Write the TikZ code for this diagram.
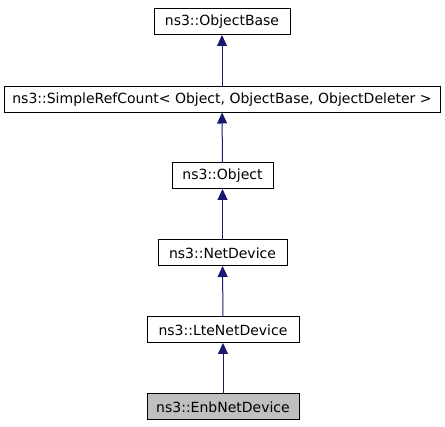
\documentclass[tikz,border=0pt]{standalone}
\usepackage{fontspec}
\setmainfont{DejaVu Sans}
\usetikzlibrary{arrows.meta}
\definecolor{edgeblue}{HTML}{191970}
\definecolor{curgray}{HTML}{BFBFBF}
\begin{document}
\begin{tikzpicture}[x=1pt, y=1pt, font=\fontsize{14}{16}\selectfont,
	every node/.style={draw, fill=white, minimum height=26pt, inner sep=0pt, outer sep=0pt, line width=1pt},
	inherit/.style={draw=edgeblue, line width=1pt, -{Triangle[length=11pt, width=10pt]}}]
	\useasboundingbox (0,0) rectangle (445,-427);

	% Klassen
	\node[minimum width=136pt] (objectbase) at (222, -22) {ns3::ObjectBase};
	\node[minimum width=436pt] (refcount) at (222, -99.5) {ns3::SimpleRefCount< Object, ObjectBase, ObjectDeleter >};
	\node[minimum width=101pt] (object) at (222.5, -176) {ns3::Object};
	\node[minimum width=129pt] (netdevice) at (222.5, -253) {ns3::NetDevice};
	\node[minimum width=152pt] (ltedevice) at (223, -330) {ns3::LteNetDevice};
	\node[minimum width=152pt, fill=curgray] (enbdevice) at (223, -407) {ns3::EnbNetDevice};

	% Vererbung
	\draw[inherit] (refcount) -- (objectbase);
	\draw[inherit] (object) -- (refcount);
	\draw[inherit] (netdevice) -- (object);
	\draw[inherit] (ltedevice) -- (netdevice);
	\draw[inherit] (enbdevice) -- (ltedevice);

\end{tikzpicture}
\end{document}
